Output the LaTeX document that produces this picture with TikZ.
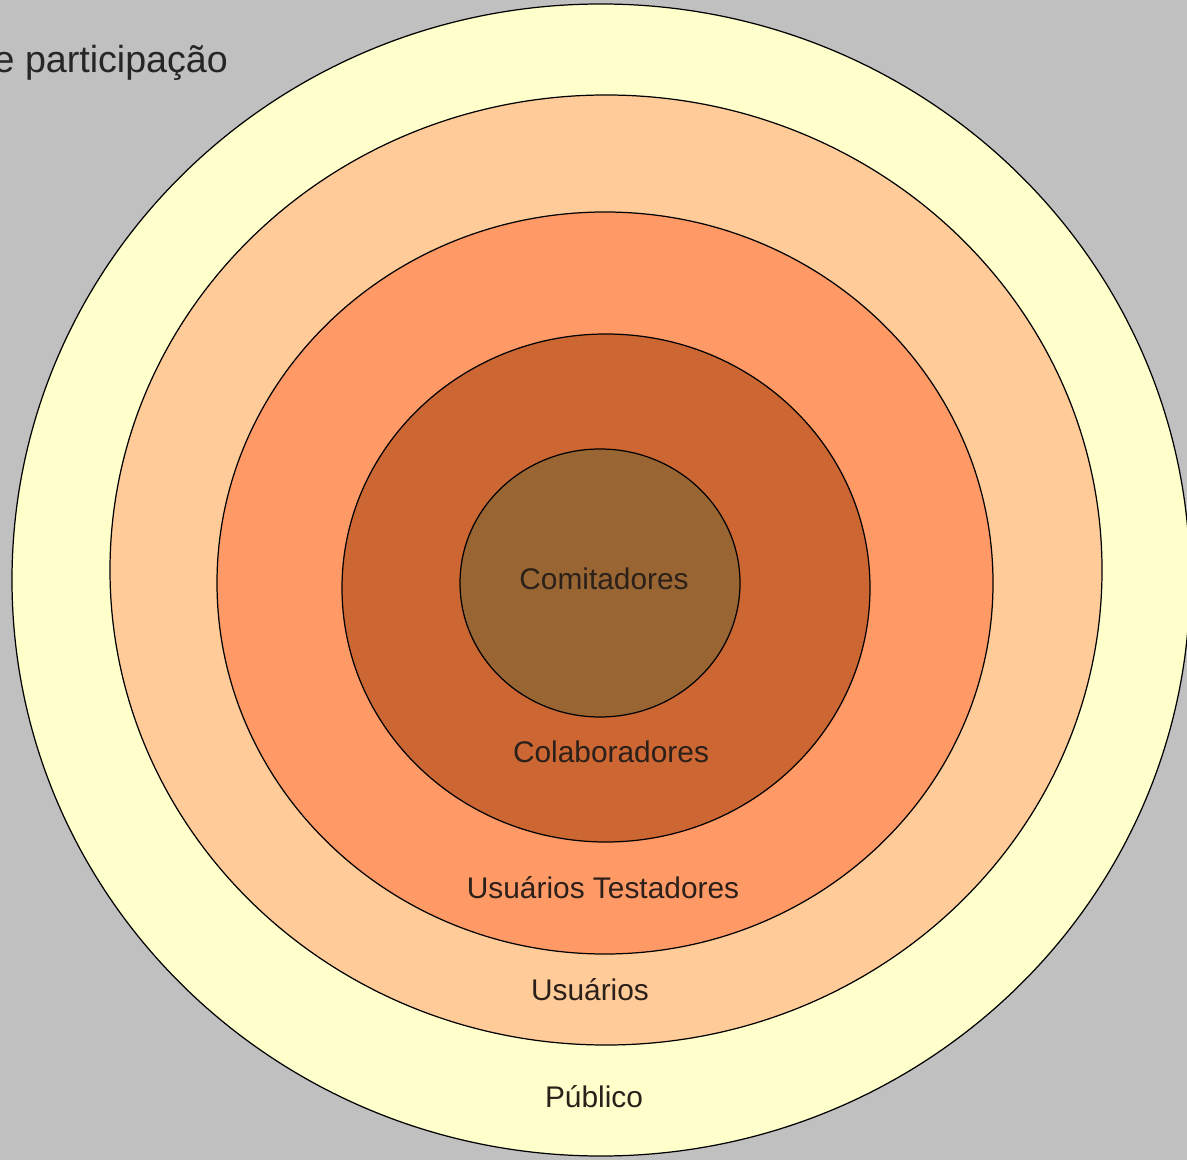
\documentclass[tikz,border=0pt]{standalone}
\usepackage{fontspec}
\setmainfont{Liberation Sans}
\usepackage{tikz}
\usetikzlibrary{positioning}
\definecolor{bggray}{RGB}{192,192,192}
\definecolor{publico}{RGB}{255,255,204}
\definecolor{usuarios}{RGB}{255,204,153}
\definecolor{testadores}{RGB}{255,153,102}
\definecolor{colaboradores}{RGB}{204,102,51}
\definecolor{comitadores}{RGB}{153,102,51}
\definecolor{labeltext}{RGB}{44,32,26}

\begin{document}
\begin{tikzpicture}[
    ring/.style={draw=black, line width=0.35pt},
    lab/.style={font=\fontsize{8.5}{10}\selectfont, text=labeltext, inner sep=0pt}
  ]
  % Frame and background: 1187 x 1160 px, 100 px = 1 cm
  \useasboundingbox (0,0) rectangle (11.87,11.60);
  \clip (0,0) rectangle (11.87,11.60);
  \fill[bggray] (0,0) rectangle (11.87,11.60);

  % Title (cut at the left edge)
  \node[font=\fontsize{10.7}{12}\selectfont, text=black!85, anchor=base west, inner sep=0pt]
    (titulo) at (-0.07,10.87) {e participação};

  % Rings, outer to inner
  \fill[publico, ring] (6.01,5.80) ellipse [x radius=5.89cm, y radius=5.76cm];
  \fill[usuarios, ring] (6.06,5.90) ellipse [x radius=4.96cm, y radius=4.75cm];
  \fill[testadores, ring] (6.05,5.77) ellipse [x radius=3.88cm, y radius=3.71cm];
  \fill[colaboradores, ring] (6.06,5.72) ellipse [x radius=2.64cm, y radius=2.54cm];
  \fill[comitadores, ring] (6.00,5.77) ellipse [x radius=1.40cm, y radius=1.34cm];

  % Labels
  \node[lab] (comit) at (6.04,5.81) {Comitadores};
  \node[lab] (colab) at (6.11,4.08) {Colaboradores};
  \node[lab] (testad) at (6.03,2.72) {Usuários Testadores};
  \node[lab] (usuar) at (5.90,1.70) {Usuários};
  \node[lab] (public) at (5.94,0.63) {Público};
\end{tikzpicture}
\end{document}
